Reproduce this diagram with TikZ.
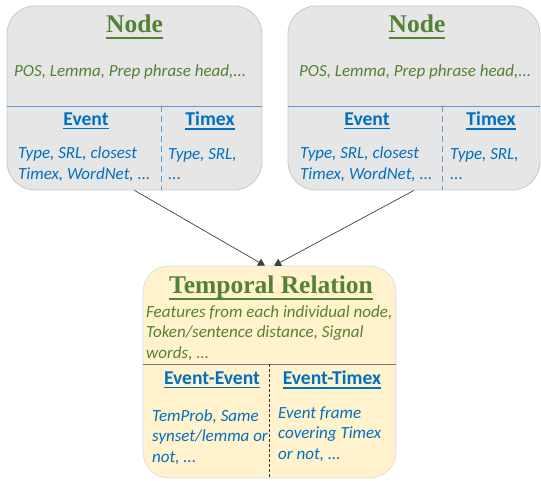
\documentclass[tikz,border=0pt]{standalone}
\usepackage{fontspec}
\usetikzlibrary{arrows.meta}
\setmainfont{Carlito}
\newfontfamily\titlefont{Liberation Serif}
\definecolor{featgreen}{HTML}{548235}
\definecolor{featblue}{HTML}{0070C0}
\definecolor{divblue}{HTML}{5B9BD5}
\definecolor{boxgray}{HTML}{E7E6E6}
\definecolor{boxedge}{HTML}{C9C9C9}
\definecolor{boxyellow}{HTML}{FFF2CC}
\newsavebox{\ulinebox}
% underlined text: #1 rule offset, #2 rule thickness, #3 text
\newcommand{\ulinetext}[3]{\sbox{\ulinebox}{#3}\rlap{\rule[#1]{\wd\ulinebox}{#2}}\usebox{\ulinebox}}
\newcommand{\boxtitle}[1]{{\titlefont\bfseries\fontsize{25.5}{28}\selectfont\ulinetext{-6pt}{2pt}{#1}}}
\newcommand{\coltitle}[1]{{\bfseries\fontsize{19.6}{22}\selectfont\ulinetext{-3.8pt}{1.4pt}{#1}}}
\tikzset{
  featbox/.style={draw=boxedge, line width=.8pt, rounded corners=28pt, fill=boxgray},
  relbox/.style={draw=boxedge!70, line width=.6pt, rounded corners=26pt, fill=boxyellow},
  greentext/.style={inner sep=0pt, text=featgreen, font=\itshape\fontsize{17}{20.7}\selectfont, align=left},
  bluetext/.style={inner sep=0pt, text=featblue, font=\itshape\fontsize{17}{20.7}\selectfont, align=left},
  head/.style={inner sep=0pt, text=featgreen},
  colhead/.style={inner sep=0pt, text=featblue},
  link/.style={line width=.7pt, draw=black!75, -{Triangle[length=7pt,width=8pt]}}
}
\begin{document}
\begin{tikzpicture}[x=1pt, y=-1pt]
        \useasboundingbox (0,0) rectangle (541,481);
        % the two word nodes
        \node[featbox, minimum width=255pt, minimum height=184pt] (lnode) at (134.5,98) {};
        \node[featbox, minimum width=252pt, minimum height=184pt] (rnode) at (414,98) {};
        \draw[divblue, line width=.8pt] (7,106) -- (262,106);
        \draw[divblue, line width=.8pt, dash pattern=on 6pt off 4pt] (161,106) -- (161,190);
        \draw[divblue, line width=.8pt] (288,106) -- (540,106);
        \draw[divblue, line width=.8pt, dash pattern=on 6pt off 4pt] (442,106) -- (442,190);
        \node[head] (ltitle) at (134.5,27) {\boxtitle{Node}};
        \node[head] (rtitle) at (417,27) {\boxtitle{Node}};
        \node[greentext, anchor=west] (lpos) at (14,72) {POS, Lemma, Prep phrase head,...};
        \node[greentext, anchor=west] (rpos) at (299,72) {POS, Lemma, Prep phrase head,...};
        \node[colhead] (levent) at (86,121) {\coltitle{Event}};
        \node[colhead] (ltimex) at (210,121) {\coltitle{Timex}};
        \node[colhead] (revent) at (367,121) {\coltitle{Event}};
        \node[colhead] (rtimex) at (491,121) {\coltitle{Timex}};
        \node[bluetext, anchor=west] (leventf) at (18,164) {Type, SRL, closest\\Timex, WordNet, ...};
        \node[bluetext, anchor=west] (ltimexf) at (168,164) {Type, SRL,\\...};
        \node[bluetext, anchor=west] (reventf) at (300,164) {Type, SRL, closest\\Timex, WordNet, ...};
        \node[bluetext, anchor=west] (rtimexf) at (450,164) {Type, SRL,\\...};
        % the relation between them
        \node[relbox, minimum width=253pt, minimum height=212pt] (rel) at (269.5,372) {};
        \draw[black!55, line width=.8pt] (143,364) -- (396,364);
        \draw[black!80, line width=.6pt, dash pattern=on 3pt off 2pt] (269,364) -- (269,478);
        \node[head] (reltitle) at (271,288) {\boxtitle{Temporal Relation}};
        \node[greentext, anchor=west] (relfeat) at (146,333) {Features from each individual node,\\Token/sentence distance, Signal\\words, ...};
        \node[colhead] (ee) at (212,380) {\coltitle{Event-Event}};
        \node[colhead] (et) at (332,380) {\coltitle{Event-Timex}};
        \node[bluetext, anchor=west] (eef) at (152,437) {TemProb, Same\\synset/lemma or\\not, ...};
        \node[bluetext, anchor=west] (etf) at (278,434) {Event frame\\covering Timex\\or not, ...};
        % links
        \draw[link] (lnode.south) -- ([xshift=-4.5pt]rel.north);
        \draw[link] (rnode.south) -- ([xshift=4.5pt]rel.north);
\end{tikzpicture}
\end{document}
